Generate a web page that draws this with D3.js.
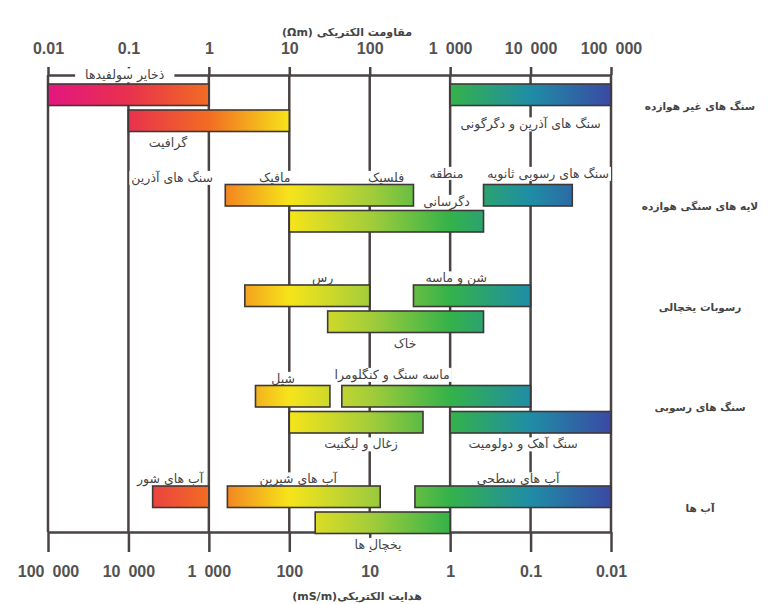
<!DOCTYPE html>
<html lang="fa">
<head>
<meta charset="utf-8">
<title>مقاومت و هدایت الکتریکی</title>
<script src="https://cdn.jsdelivr.net/npm/d3@7/dist/d3.min.js"></script>
<style>
  body { margin: 0; background: #fff; }
  .tick text { font-family: "Liberation Sans", Arial, sans-serif; font-size: 16px; font-weight: bold; fill: #525252; }
  .fa { font-family: "DejaVu Sans", sans-serif; fill: #444; }
</style>
</head>
<body>
<script>
// values
var decades = [0.01, 0.1, 1, 10, 100, 1000, 10000, 100000];
var resistivityTicks = ["0.01", "0.1", "1", "10", "100", "1\u2002000", "10\u2002000", "100\u2002000"];
var conductivityValues = [100000, 10000, 1000, 100, 10, 1, 0.1, 0.01];
var conductivityTicks = ["100\u2002000", "10\u2002000", "1\u2002000", "100", "10", "1", "0.1", "0.01"];

var rowNames = ["سنگ های غیر هوازده", "لایه های سنگی هوازده", "رسوبات یخچالی", "سنگ های رسوبی", "آب ها"];

// [row, lane, from Ωm, to Ωm]
var barRanges = [
  [0, 0, 0.01, 1],
  [0, 1, 0.1, 10],
  [0, 0, 1000, 100000],
  [1, 0, 1.6, 350],
  [1, 1, 10, 2600],
  [1, 0, 2600, 33000],
  [2, 0, 2.8, 100],
  [2, 0, 350, 10000],
  [2, 1, 30, 2600],
  [3, 0, 3.8, 32],
  [3, 0, 45, 10000],
  [3, 1, 10, 460],
  [3, 1, 1000, 100000],
  [4, 0, 0.2, 1],
  [4, 0, 1.7, 135],
  [4, 0, 365, 100000],
  [4, 1, 21, 1000]
];

// [text, row, place, at Ωm]
var labels = [
  ["ذخایر سولفیدها", 0, "axis", 0.09],
  ["گرافیت", 0, "below", 0.31],
  ["سنگ های آذرین و دگرگونی", 0, "laneB", 10000],
  ["سنگ های آذرین", 1, "above", 0.35],
  ["مافیک", 1, "above", 6.6],
  ["فلسیک", 1, "above", 160],
  ["منطقه", 1, "high", 900],
  ["دگرسانی", 1, "laneA", 900],
  ["سنگ های رسوبی ثانویه", 1, "high", 16500],
  ["رس", 2, "above", 26],
  ["شن و ماسه", 2, "above", 1190],
  ["خاک", 2, "below", 275],
  ["شیل", 3, "above", 8.4],
  ["ماسه سنگ و کنگلومرا", 3, "high", 190],
  ["زغال و لیگنیت", 3, "below", 78],
  ["سنگ آهک و دولومیت", 3, "below", 8100],
  ["آب های شور", 4, "above", 0.33],
  ["آب های شیرین", 4, "above", 12.9],
  ["آب های سطحی", 4, "above", 7000],
  ["یخچال ها", 4, "below", 127]
];

var w = 783, h = 604;
var laneH = 21.5, laneStep = 26;
var lineColor = "#4a4343";

var svg = d3.select("body").append("svg")
    .attr("width", w)
    .attr("height", h);

var x = d3.scaleLog().domain([0.01, 100000]).range([48, 611]);
var xc = d3.scaleLog().domain([100000, 0.01]).range([48, 611]);
var y = d3.scaleLinear().domain([0, 4]).range([84, 486]);
var axisTopY = 75, axisBottomY = 532;

// colour runs with resistivity, so one gradient in user space for every bar
var colorStops = [
  [0.01, "#e4167f"], [0.1, "#e8314e"], [1, "#f26c22"], [10, "#f6e41a"],
  [100, "#a4cd3a"], [1000, "#34b24a"], [10000, "#1f8da6"], [100000, "#3a49a4"]
];
var grad = svg.append("defs").append("linearGradient")
    .attr("id", "spectrum")
    .attr("gradientUnits", "userSpaceOnUse")
    .attr("x1", x(0.01)).attr("x2", x(100000))
    .attr("y1", 0).attr("y2", 0);
grad.selectAll("stop")
    .data(colorStops)
    .enter().append("stop")
    .attr("offset", function(d) { return (x(d[0]) - x(0.01)) / (x(100000) - x(0.01)); })
    .attr("stop-color", function(d) { return d[1]; });

// grid
svg.append("g").selectAll("line")
    .data(decades)
    .enter().append("line")
    .attr("x1", function(d) { return x(d); })
    .attr("x2", function(d) { return x(d); })
    .attr("y1", axisTopY)
    .attr("y2", axisBottomY)
    .attr("stroke", lineColor)
    .attr("stroke-width", 2.5);

// axes
var topAxis = d3.axisTop(x)
    .tickValues(decades)
    .tickFormat(function(d, i) { return resistivityTicks[i]; })
    .tickSize(8).tickSizeOuter(0).tickPadding(13);
var gTop = svg.append("g")
    .attr("transform", "translate(0," + axisTopY + ")")
    .call(topAxis);

var bottomAxis = d3.axisBottom(xc)
    .tickValues(conductivityValues)
    .tickFormat(function(d, i) { return conductivityTicks[i]; })
    .tickSize(20).tickSizeOuter(0).tickPadding(14);
var gBottom = svg.append("g")
    .attr("transform", "translate(0," + axisBottomY + ")")
    .call(bottomAxis);

[gTop, gBottom].forEach(function(g) {
  g.select(".domain").attr("stroke", lineColor).attr("stroke-width", 2.5);
  g.selectAll(".tick line").attr("stroke", lineColor).attr("stroke-width", 2.5);
});

// label places relative to the row top
function labelY(row, place) {
  var top = y(row);
  if (place === "axis") return axisTopY;
  if (place === "above") return top - 7;
  if (place === "high") return top - 11;
  if (place === "laneA") return top + 17;
  if (place === "laneB") return top + 40;
  return top + laneStep + laneH + 11;
}

var bgLayer = svg.append("g");

// bars
svg.append("g").selectAll("rect")
    .data(barRanges)
    .enter().append("rect")
    .attr("x", function(d) { return x(d[2]); })
    .attr("y", function(d) { return y(d[0]) + d[1] * laneStep; })
    .attr("width", function(d) { return x(d[3]) - x(d[2]); })
    .attr("height", laneH)
    .attr("fill", "url(#spectrum)")
    .attr("stroke", "#3f3838")
    .attr("stroke-width", 1.6);

var texts = svg.append("g").selectAll("text")
    .data(labels)
    .enter().append("text")
    .attr("class", "fa")
    .attr("x", function(d) { return x(d[3]); })
    .attr("y", function(d) { return labelY(d[1], d[2]); })
    .attr("dy", "0.35em")
    .attr("text-anchor", "middle")
    .attr("font-size", 12.5)
    .text(function(d) { return d[0]; });

texts.each(function(d) {
  var b = this.getBBox();
  var pad = d[2] === "axis" ? 10 : 2;
  bgLayer.append("rect")
      .attr("x", b.x - pad)
      .attr("y", b.y + 1)
      .attr("width", b.width + pad * 2)
      .attr("height", b.height - 2)
      .attr("fill", "#fff");
});

// row names on the right
svg.append("g").selectAll("text")
    .data(rowNames)
    .enter().append("text")
    .attr("class", "fa")
    .attr("x", 700)
    .attr("y", function(d, i) { return y(i) + 22; })
    .attr("dy", "0.35em")
    .attr("text-anchor", "middle")
    .attr("font-size", 10.5)
    .attr("font-weight", "bold")
    .attr("fill", "#333")
    .text(function(d) { return d; });

// axis titles
svg.append("text")
    .attr("class", "fa")
    .attr("x", 347).attr("y", 32)
    .attr("dy", "0.35em")
    .attr("text-anchor", "middle")
    .attr("direction", "rtl")
    .attr("font-size", 11)
    .attr("font-weight", "bold")
    .text("مقاومت الکتریکی (Ωm)");

svg.append("text")
    .attr("class", "fa")
    .attr("x", 357).attr("y", 596)
    .attr("dy", "0.35em")
    .attr("text-anchor", "middle")
    .attr("direction", "rtl")
    .attr("font-size", 11)
    .attr("font-weight", "bold")
    .text("هدایت الکتریکی(mS/m)");
</script>
</body>
</html>
